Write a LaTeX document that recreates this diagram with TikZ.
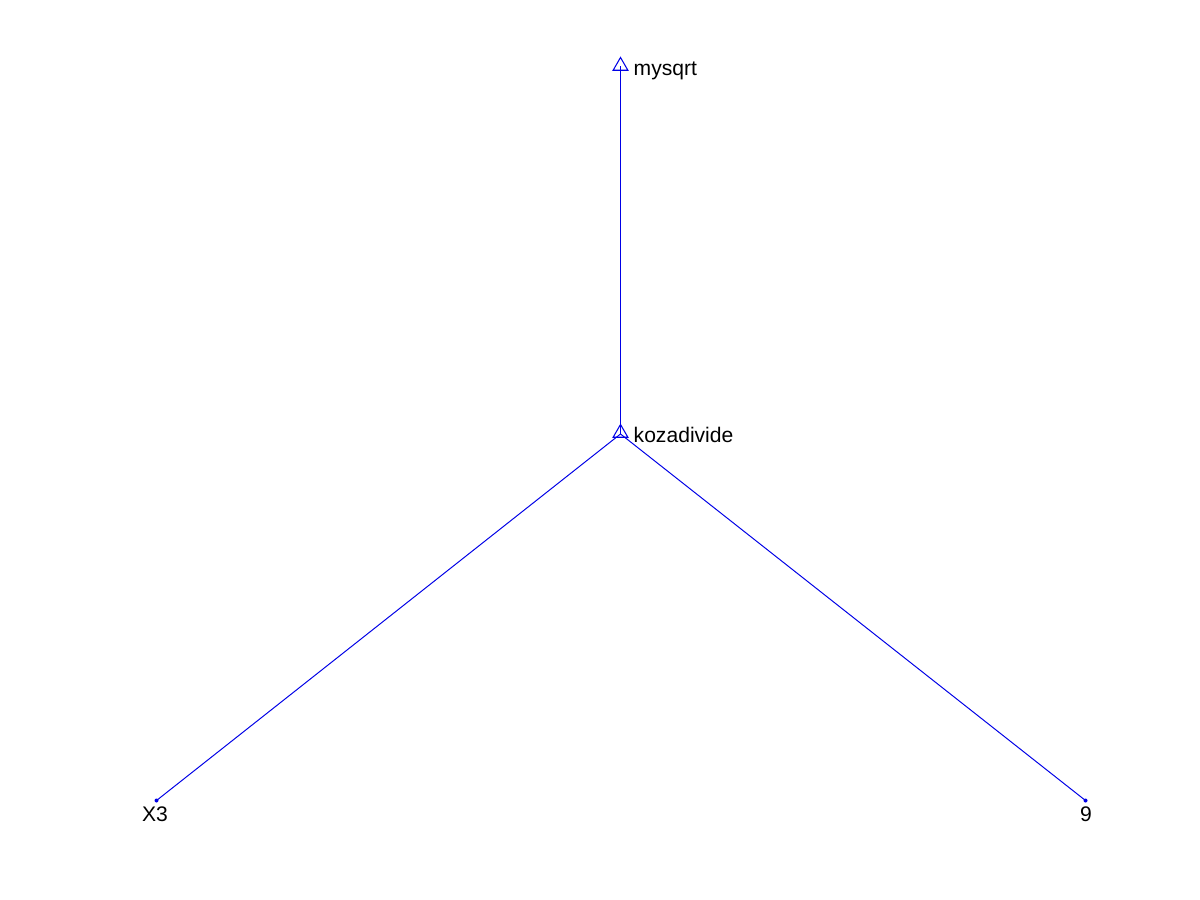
\documentclass[tikz,border=0pt]{standalone}
\usepackage{fontspec}
\setmainfont{Liberation Sans}
\usetikzlibrary{shapes.geometric}
\definecolor{mblue}{RGB}{0,0,230}
\tikzset{
  edge/.style={draw=mblue, line width=0.28pt},
  tri/.style={draw=mblue, line width=0.3pt, regular polygon, regular polygon sides=3, minimum size=0.17cm, inner sep=0pt},
  leaf/.style={fill=mblue, circle, inner sep=0pt, minimum size=0.04cm},
  lbl/.style={font=\fontsize{6}{7}\selectfont, inner sep=0pt, text=black}
}
\begin{document}
\begin{tikzpicture}[x=0.01cm,y=-0.01cm]
\useasboundingbox (0,0) rectangle (1200,900);
\coordinate (mysqrt) at (620.5,66);
\coordinate (koza) at (620.5,434);
\coordinate (x3) at (156.5,800.5);
\coordinate (nine) at (1085.5,800.5);
\draw[edge] (koza) -- (mysqrt);
\draw[edge] (x3) -- (koza);
\draw[edge] (nine) -- (koza);
\node[tri] (mysqrtm) at (620.5,66) {};
\node[tri] (kozam) at (620.5,433) {};
\node[leaf] (x3m) at (x3) {};
\node[leaf] (ninem) at (nine) {};
\node[lbl, anchor=base west] (l1) at (633,75) {mysqrt};
\node[lbl, anchor=base west] (l2) at (633,442) {kozadivide};
\node[lbl, anchor=base] (l3) at (155,821) {X3};
\node[lbl, anchor=base] (l4) at (1086,821) {9};
\end{tikzpicture}
\end{document}
